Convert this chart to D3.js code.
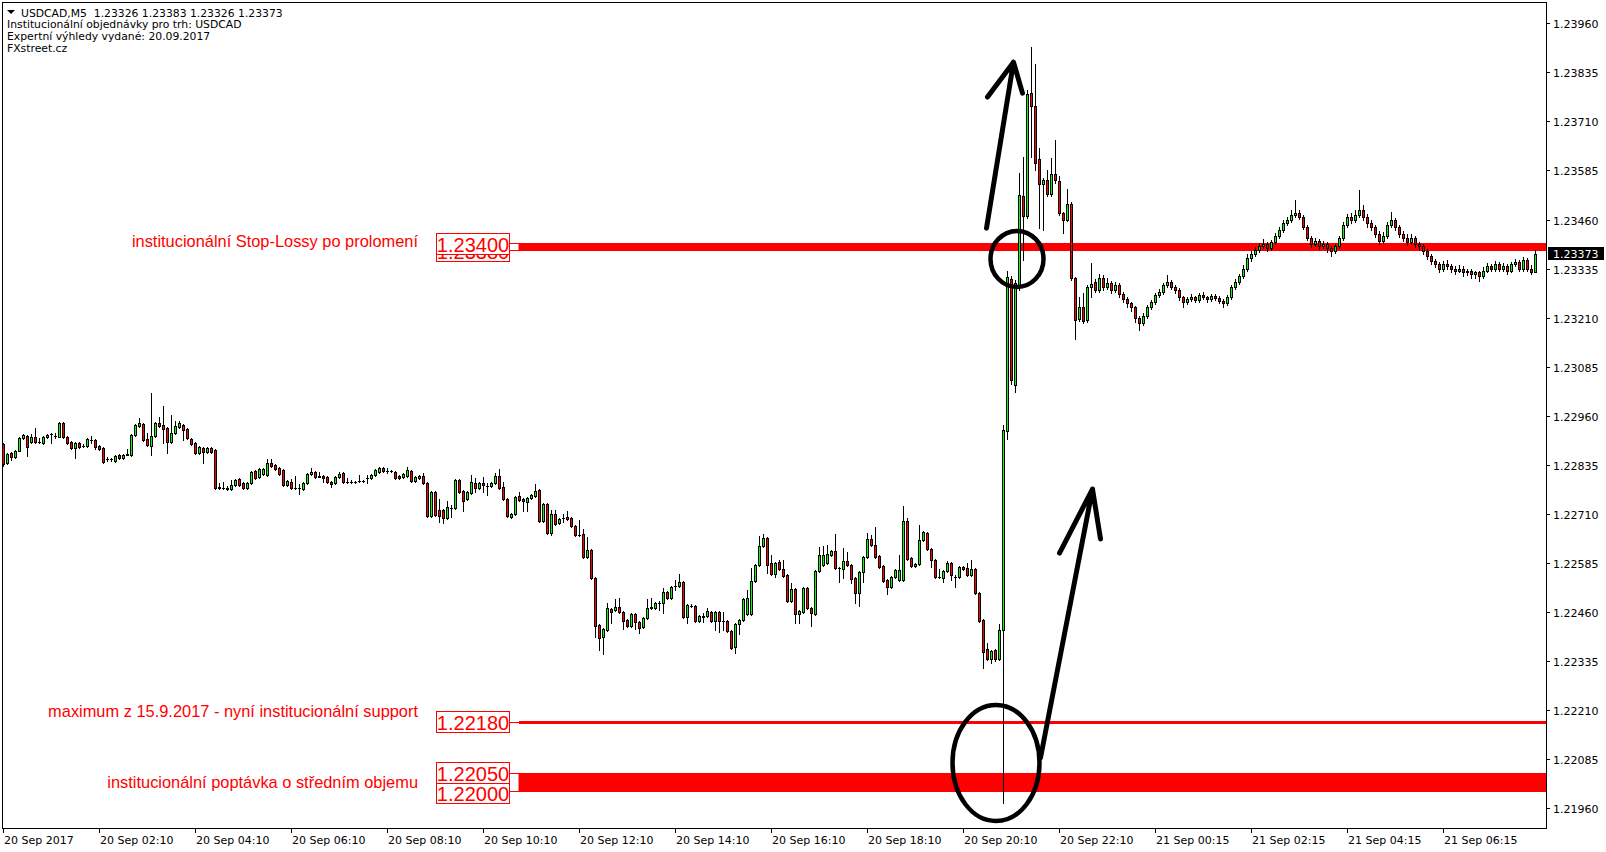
<!DOCTYPE html>
<html><head><meta charset="utf-8">
<script src="https://cdn.jsdelivr.net/npm/d3@7"></script>
<style>html,body{margin:0;padding:0;background:#fff;}svg{display:block;}</style>
</head><body>
<svg id="c" width="1606" height="852"></svg>
<script>
// ---- DATA (USDCAD M5) ----
const openP = [
1.22888,1.22839,1.22865,1.22855,1.22870,1.22903,1.22908,1.22893,1.22906,1.22893,
1.22890,1.22906,1.22913,1.22908,1.22906,1.22941,1.22906,1.22893,1.22878,1.22890,
1.22883,1.22883,1.22898,1.22898,1.22883,1.22878,1.22850,1.22849,1.22845,1.22860,
1.22852,1.22860,1.22860,1.22911,1.22934,1.22939,1.22901,1.22883,1.22908,1.22941,
1.22936,1.22929,1.22893,1.22916,1.22931,1.22936,1.22926,1.22901,1.22890,1.22865,
1.22878,1.22868,1.22878,1.22873,1.22778,1.22777,1.22775,1.22773,1.22783,1.22799,
1.22789,1.22776,1.22789,1.22819,1.22804,1.22811,1.22809,1.22839,1.22834,1.22827,
1.22822,1.22783,1.22791,1.22776,1.22776,1.22773,1.22789,1.22811,1.22817,1.22806,
1.22806,1.22804,1.22791,1.22789,1.22804,1.22814,1.22791,1.22792,1.22791,1.22793,
1.22794,1.22801,1.22801,1.22809,1.22817,1.22827,1.22819,1.22819,1.22817,1.22806,
1.22804,1.22806,1.22819,1.22794,1.22801,1.22806,1.22789,1.22704,1.22766,1.22720,
1.22720,1.22699,1.22725,1.22725,1.22796,1.22768,1.22748,1.22763,1.22789,1.22776,
1.22789,1.22782,1.22781,1.22789,1.22806,1.22778,1.22748,1.22702,1.22709,1.22755,
1.22748,1.22740,1.22750,1.22755,1.22771,1.22691,1.22735,1.22661,1.22709,1.22686,
1.22699,1.22702,1.22699,1.22679,1.22656,1.22658,1.22600,1.22618,1.22546,1.22426,
1.22396,1.22414,1.22467,1.22465,1.22472,1.22459,1.22439,1.22424,1.22454,1.22434,
1.22421,1.22444,1.22470,1.22470,1.22482,1.22482,1.22510,1.22495,1.22526,1.22526,
1.22536,1.22447,1.22476,1.22475,1.22436,1.22449,1.22449,1.22459,1.22436,1.22459,
1.22436,1.22436,1.22411,1.22370,1.22429,1.22439,1.22454,1.22454,1.22538,1.22579,
1.22628,1.22648,1.22584,1.22556,1.22587,1.22569,1.22554,1.22487,1.22518,1.22454,
1.22459,1.22521,1.22470,1.22454,1.22564,1.22579,1.22584,1.22605,1.22615,1.22572,
1.22569,1.22589,1.22579,1.22546,1.22508,1.22561,1.22600,1.22646,1.22630,1.22602,
1.22577,1.22541,1.22523,1.22549,1.22541,1.22541,1.22691,1.22597,1.22577,1.22582,
1.22643,1.22661,1.22620,1.22592,1.22549,1.22546,1.22564,1.22584,1.22549,1.22549,
1.22574,1.22572,1.22554,1.22569,1.22508,1.22439,1.22365,1.22340,1.22363,1.22340,
1.22414,1.22920,1.23309,1.23038,1.23288,1.23520,1.23469,1.23782,1.23749,1.23614,
1.23551,1.23561,1.23525,1.23576,1.23558,1.23477,1.23459,1.23500,1.23311,1.23206,
1.23237,1.23204,1.23288,1.23301,1.23280,
1.23311,1.23288,1.23299,1.23280,1.23293,1.23270,1.23257,1.23246,1.23236,1.23210,
1.23197,1.23215,1.23236,1.23249,1.23267,1.23275,1.23293,1.23301,1.23288,1.23280,
1.23262,1.23249,1.23257,1.23262,1.23254,1.23267,1.23262,1.23257,1.23265,1.23259,
1.23252,1.23246,1.23262,1.23288,1.23301,1.23315,1.23335,1.23361,1.23372,1.23382,
1.23393,1.23398,1.23387,1.23403,1.23419,1.23432,1.23450,1.23458,1.23471,1.23476,
1.23466,1.23440,1.23414,1.23398,1.23406,1.23393,1.23398,1.23387,1.23380,1.23393,
1.23414,1.23445,1.23466,1.23458,1.23471,1.23484,1.23466,1.23450,1.23440,1.23424,
1.23406,1.23419,1.23445,1.23458,1.23440,1.23424,1.23414,1.23403,1.23414,1.23398,
1.23393,1.23380,1.23367,1.23354,1.23346,1.23335,1.23346,1.23341,1.23335,1.23330,
1.23335,1.23325,1.23328,1.23320,1.23325,1.23315,1.23330,1.23341,1.23335,1.23346,
1.23335,1.23341,1.23330,1.23346,1.23351,1.23335,1.23356,1.23335,1.23326];
const highP = [
1.22890,1.22865,1.22868,1.22873,1.22906,1.22913,1.22911,1.22913,1.22929,1.22903,
1.22908,1.22913,1.22916,1.22916,1.22944,1.22944,1.22908,1.22896,1.22893,1.22893,
1.22888,1.22903,1.22908,1.22901,1.22885,1.22880,1.22855,1.22852,1.22860,1.22862,
1.22862,1.22875,1.22913,1.22939,1.22954,1.22941,1.22916,1.23018,1.22944,1.22957,
1.22985,1.22931,1.22962,1.22946,1.22946,1.22939,1.22929,1.22903,1.22893,1.22883,
1.22880,1.22880,1.22880,1.22875,1.22789,1.22791,1.22781,1.22796,1.22799,1.22801,
1.22791,1.22791,1.22819,1.22822,1.22827,1.22827,1.22850,1.22850,1.22837,1.22829,
1.22824,1.22796,1.22799,1.22806,1.22786,1.22791,1.22814,1.22827,1.22819,1.22817,
1.22809,1.22806,1.22794,1.22806,1.22817,1.22817,1.22801,1.22796,1.22794,1.22809,
1.22796,1.22809,1.22811,1.22824,1.22829,1.22829,1.22827,1.22822,1.22819,1.22809,
1.22814,1.22829,1.22822,1.22806,1.22809,1.22814,1.22791,1.22768,1.22768,1.22748,
1.22722,1.22742,1.22732,1.22799,1.22799,1.22771,1.22768,1.22809,1.22801,1.22791,
1.22804,1.22789,1.22791,1.22814,1.22824,1.22791,1.22750,1.22712,1.22755,1.22766,
1.22750,1.22753,1.22760,1.22786,1.22773,1.22737,1.22737,1.22720,1.22720,1.22699,
1.22709,1.22717,1.22702,1.22681,1.22694,1.22671,1.22651,1.22620,1.22549,1.22429,
1.22419,1.22482,1.22470,1.22493,1.22495,1.22462,1.22442,1.22457,1.22457,1.22436,
1.22447,1.22493,1.22495,1.22485,1.22487,1.22521,1.22513,1.22526,1.22541,1.22556,
1.22538,1.22480,1.22480,1.22477,1.22452,1.22457,1.22470,1.22462,1.22462,1.22462,
1.22459,1.22439,1.22414,1.22431,1.22442,1.22495,1.22516,1.22572,1.22582,1.22653,
1.22658,1.22651,1.22605,1.22587,1.22592,1.22592,1.22556,1.22533,1.22521,1.22465,
1.22523,1.22523,1.22472,1.22567,1.22625,1.22628,1.22630,1.22618,1.22658,1.22574,
1.22623,1.22612,1.22582,1.22549,1.22564,1.22602,1.22661,1.22656,1.22676,1.22605,
1.22579,1.22544,1.22551,1.22569,1.22605,1.22730,1.22699,1.22600,1.22584,1.22681,
1.22666,1.22663,1.22623,1.22595,1.22569,1.22567,1.22589,1.22587,1.22554,1.22577,
1.22577,1.22584,1.22592,1.22572,1.22510,1.22442,1.22380,1.22363,1.22365,1.22429,
1.22936,1.23330,1.23315,1.23305,1.23578,1.23619,1.23790,1.23900,1.23856,1.23642,
1.23566,1.23586,1.23617,1.23663,1.23571,1.23479,1.23538,1.23505,1.23314,1.23263,
1.23273,1.23293,1.23349,1.23309,1.23321,
1.23318,1.23310,1.23304,1.23301,1.23297,1.23276,1.23262,1.23251,1.23240,1.23214,
1.23222,1.23241,1.23256,1.23272,1.23283,1.23299,1.23318,1.23306,1.23293,1.23285,
1.23266,1.23263,1.23270,1.23266,1.23272,1.23275,1.23266,1.23270,1.23270,1.23264,
1.23257,1.23267,1.23293,1.23309,1.23322,1.23345,1.23372,1.23380,1.23390,1.23401,
1.23411,1.23403,1.23409,1.23425,1.23440,1.23458,1.23466,1.23484,1.23510,1.23484,
1.23471,1.23445,1.23419,1.23414,1.23411,1.23406,1.23403,1.23393,1.23398,1.23419,
1.23453,1.23474,1.23476,1.23484,1.23536,1.23497,1.23474,1.23458,1.23445,1.23430,
1.23427,1.23453,1.23479,1.23463,1.23445,1.23430,1.23422,1.23424,1.23419,1.23403,
1.23398,1.23385,1.23372,1.23359,1.23351,1.23354,1.23356,1.23346,1.23341,1.23343,
1.23341,1.23335,1.23333,1.23330,1.23330,1.23338,1.23348,1.23346,1.23354,1.23351,
1.23348,1.23346,1.23351,1.23359,1.23356,1.23364,1.23361,1.23343,1.23383];
const lowP = [
1.22832,1.22837,1.22847,1.22852,1.22870,1.22901,1.22857,1.22890,1.22890,1.22890,
1.22888,1.22903,1.22890,1.22903,1.22906,1.22903,1.22888,1.22875,1.22852,1.22878,
1.22880,1.22880,1.22890,1.22875,1.22873,1.22839,1.22845,1.22845,1.22842,1.22850,
1.22850,1.22860,1.22857,1.22908,1.22931,1.22896,1.22883,1.22860,1.22906,1.22931,
1.22890,1.22865,1.22890,1.22913,1.22929,1.22898,1.22901,1.22885,1.22862,1.22862,
1.22839,1.22865,1.22865,1.22773,1.22773,1.22773,1.22771,1.22771,1.22781,1.22781,
1.22773,1.22773,1.22786,1.22799,1.22801,1.22809,1.22806,1.22829,1.22822,1.22809,
1.22781,1.22781,1.22773,1.22773,1.22760,1.22771,1.22786,1.22809,1.22801,1.22804,
1.22791,1.22789,1.22778,1.22786,1.22801,1.22789,1.22789,1.22789,1.22789,1.22791,
1.22791,1.22789,1.22799,1.22806,1.22814,1.22817,1.22814,1.22817,1.22799,1.22799,
1.22801,1.22804,1.22791,1.22791,1.22799,1.22786,1.22702,1.22702,1.22704,1.22689,
1.22686,1.22697,1.22702,1.22722,1.22763,1.22717,1.22745,1.22760,1.22766,1.22773,
1.22766,1.22758,1.22778,1.22786,1.22773,1.22745,1.22702,1.22699,1.22707,1.22742,
1.22717,1.22717,1.22748,1.22753,1.22689,1.22689,1.22658,1.22656,1.22681,1.22684,
1.22689,1.22694,1.22676,1.22653,1.22653,1.22597,1.22597,1.22544,1.22396,1.22363,
1.22352,1.22411,1.22431,1.22462,1.22457,1.22416,1.22421,1.22421,1.22416,1.22406,
1.22419,1.22442,1.22467,1.22467,1.22465,1.22457,1.22493,1.22493,1.22516,1.22523,
1.22444,1.22431,1.22472,1.22434,1.22434,1.22434,1.22447,1.22434,1.22414,1.22408,
1.22414,1.22408,1.22365,1.22355,1.22403,1.22436,1.22452,1.22452,1.22536,1.22577,
1.22625,1.22559,1.22554,1.22549,1.22567,1.22549,1.22485,1.22485,1.22431,1.22431,
1.22457,1.22467,1.22424,1.22452,1.22561,1.22577,1.22582,1.22602,1.22569,1.22536,
1.22546,1.22577,1.22533,1.22482,1.22475,1.22536,1.22597,1.22628,1.22597,1.22572,
1.22536,1.22505,1.22521,1.22546,1.22538,1.22538,1.22592,1.22574,1.22574,1.22579,
1.22640,1.22618,1.22574,1.22546,1.22546,1.22536,1.22561,1.22541,1.22523,1.22546,
1.22567,1.22551,1.22551,1.22505,1.22434,1.22317,1.22337,1.22330,1.22335,1.22337,
1.21973,1.22900,1.23040,1.23020,1.23280,1.23357,1.23464,1.23619,1.23586,1.23438,
1.23433,1.23520,1.23520,1.23553,1.23472,1.23426,1.23456,1.23306,1.23156,1.23201,
1.23196,1.23199,1.23263,1.23275,1.23275,
1.23281,1.23283,1.23272,1.23276,1.23262,1.23250,1.23238,1.23228,1.23199,1.23179,
1.23190,1.23210,1.23231,1.23244,1.23262,1.23270,1.23288,1.23283,1.23273,1.23255,
1.23236,1.23244,1.23252,1.23249,1.23250,1.23257,1.23250,1.23252,1.23254,1.23246,
1.23236,1.23241,1.23257,1.23283,1.23296,1.23310,1.23330,1.23354,1.23366,1.23377,
1.23388,1.23380,1.23382,1.23398,1.23414,1.23427,1.23445,1.23453,1.23466,1.23461,
1.23435,1.23408,1.23390,1.23393,1.23385,1.23387,1.23377,1.23367,1.23374,1.23388,
1.23409,1.23440,1.23450,1.23453,1.23466,1.23458,1.23440,1.23432,1.23416,1.23398,
1.23401,1.23414,1.23440,1.23432,1.23416,1.23406,1.23395,1.23398,1.23390,1.23382,
1.23372,1.23359,1.23346,1.23338,1.23325,1.23330,1.23333,1.23325,1.23320,1.23325,
1.23315,1.23318,1.23310,1.23312,1.23302,1.23310,1.23325,1.23328,1.23330,1.23328,
1.23330,1.23322,1.23325,1.23341,1.23328,1.23330,1.23328,1.23320,1.23326];
const closeP = [
1.22837,1.22862,1.22855,1.22870,1.22903,1.22911,1.22880,1.22906,1.22893,1.22892,
1.22906,1.22911,1.22913,1.22909,1.22941,1.22906,1.22890,1.22878,1.22890,1.22880,
1.22882,1.22901,1.22898,1.22880,1.22875,1.22842,1.22849,1.22850,1.22857,1.22852,
1.22860,1.22862,1.22911,1.22936,1.22941,1.22898,1.22885,1.22908,1.22941,1.22934,
1.22926,1.22893,1.22916,1.22934,1.22941,1.22924,1.22903,1.22888,1.22865,1.22880,
1.22868,1.22878,1.22868,1.22776,1.22777,1.22776,1.22773,1.22783,1.22796,1.22783,
1.22776,1.22789,1.22817,1.22801,1.22824,1.22824,1.22839,1.22832,1.22824,1.22811,
1.22783,1.22794,1.22776,1.22776,1.22775,1.22789,1.22811,1.22817,1.22804,1.22805,
1.22801,1.22791,1.22786,1.22804,1.22811,1.22791,1.22792,1.22791,1.22792,1.22794,
1.22793,1.22802,1.22809,1.22822,1.22827,1.22819,1.22820,1.22819,1.22801,1.22801,
1.22811,1.22822,1.22794,1.22804,1.22806,1.22789,1.22704,1.22766,1.22707,1.22704,
1.22699,1.22727,1.22726,1.22796,1.22766,1.22742,1.22766,1.22791,1.22776,1.22789,
1.22783,1.22781,1.22789,1.22806,1.22776,1.22748,1.22704,1.22709,1.22753,1.22745,
1.22742,1.22750,1.22758,1.22768,1.22691,1.22735,1.22661,1.22709,1.22684,1.22697,
1.22700,1.22697,1.22679,1.22656,1.22655,1.22600,1.22618,1.22546,1.22424,1.22393,
1.22416,1.22470,1.22459,1.22472,1.22459,1.22436,1.22424,1.22454,1.22434,1.22419,
1.22444,1.22470,1.22472,1.22482,1.22483,1.22510,1.22495,1.22523,1.22525,1.22536,
1.22447,1.22477,1.22475,1.22436,1.22449,1.22448,1.22462,1.22436,1.22459,1.22436,
1.22437,1.22411,1.22368,1.22429,1.22439,1.22493,1.22495,1.22538,1.22579,1.22628,
1.22648,1.22579,1.22556,1.22584,1.22569,1.22551,1.22487,1.22518,1.22454,1.22462,
1.22521,1.22470,1.22457,1.22564,1.22605,1.22605,1.22607,1.22615,1.22572,1.22571,
1.22589,1.22579,1.22544,1.22508,1.22561,1.22600,1.22646,1.22630,1.22600,1.22574,
1.22538,1.22523,1.22549,1.22567,1.22567,1.22691,1.22595,1.22577,1.22582,1.22643,
1.22663,1.22620,1.22592,1.22549,1.22548,1.22564,1.22584,1.22554,1.22548,1.22574,
1.22569,1.22554,1.22569,1.22508,1.22436,1.22357,1.22340,1.22360,1.22340,1.22414,
1.22924,1.23314,1.23051,1.23298,1.23522,1.23469,1.23780,1.23749,1.23604,1.23551,
1.23561,1.23525,1.23576,1.23561,1.23477,1.23459,1.23500,1.23311,1.23204,1.23237,
1.23201,1.23288,1.23296,1.23280,1.23311,
1.23288,1.23299,1.23280,1.23293,1.23270,1.23257,1.23246,1.23236,1.23210,1.23197,
1.23215,1.23236,1.23249,1.23267,1.23275,1.23293,1.23301,1.23288,1.23280,1.23262,
1.23249,1.23257,1.23262,1.23254,1.23267,1.23262,1.23257,1.23265,1.23259,1.23252,
1.23246,1.23262,1.23288,1.23301,1.23315,1.23335,1.23361,1.23372,1.23382,1.23393,
1.23398,1.23387,1.23403,1.23419,1.23432,1.23450,1.23458,1.23471,1.23476,1.23466,
1.23440,1.23414,1.23398,1.23406,1.23393,1.23398,1.23387,1.23380,1.23393,1.23414,
1.23445,1.23466,1.23458,1.23471,1.23484,1.23466,1.23450,1.23440,1.23424,1.23406,
1.23419,1.23445,1.23458,1.23440,1.23424,1.23414,1.23403,1.23414,1.23398,1.23393,
1.23380,1.23367,1.23354,1.23346,1.23335,1.23346,1.23341,1.23335,1.23330,1.23335,
1.23325,1.23328,1.23320,1.23325,1.23315,1.23330,1.23341,1.23335,1.23346,1.23335,
1.23341,1.23330,1.23346,1.23351,1.23335,1.23356,1.23335,1.23326,1.23373];

const barCount = 384;
const priceTicks = [1.23960,1.23835,1.23710,1.23585,1.23460,1.23335,1.23210,1.23085,1.22960,
                    1.22835,1.22710,1.22585,1.22460,1.22335,1.22210,1.22085,1.21960];
const timeTickBars = [0,24,48,72,96,120,144,168,192,216,240,264,288,312,336,360];
const timeTickLabels = ["20 Sep 2017","20 Sep 02:10","20 Sep 04:10","20 Sep 06:10","20 Sep 08:10",
  "20 Sep 10:10","20 Sep 12:10","20 Sep 14:10","20 Sep 16:10","20 Sep 18:10","20 Sep 20:10",
  "20 Sep 22:10","21 Sep 00:15","21 Sep 02:15","21 Sep 04:15","21 Sep 06:15"];
const zoneTop = [1.23400, 1.22050];
const zoneBottom = [1.23380, 1.22000];
const lineLevels = [1.22180];
const levelLabels = [1.23380, 1.23400, 1.22000, 1.22050, 1.22180];
const noteTexts = ["institucionální Stop-Lossy po prolomení",
  "maximum z 15.9.2017 - nyní institucionální support",
  "institucionální poptávka o středním objemu"];
const headerLines = ["USDCAD,M5  1.23326 1.23383 1.23326 1.23373",
  "Institucionální objednávky pro trh: USDCAD",
  "Expertní výhledy vydané: 20.09.2017", "FXstreet.cz"];
const lastPrice = 1.23373;
// hand-drawn marks, in (bar index, price) space
const ringMarks = [[246.25, 260.5, 1.23436, 1.23283], [236.75, 259.5, 1.22228, 1.21922]];
const arrowMarks = [
  [[245.75,1.23438],[252.5,1.23861],[246,1.23772],[254.75,1.23782]],
  [[259.25,1.22088],[272.25,1.22773],[264,1.22610],[274.25,1.22646]]];

// ---- CHART ----
const svg = d3.select("#c");
const L = 2, T = 2, R = 1546, B = 828;
const x = d3.scaleBand().domain(d3.range(barCount)).range([1, 1 + 4 * barCount]);
const y = d3.scaleLinear().domain([1.21960, 1.23960]).range([808.1, 23.3]);
const xc = b => x(0) + 2.5 + b * x.step();
const RED = "#ff0000";
const AX = "DejaVu Sans, sans-serif";

svg.append("rect").attr("width", 1606).attr("height", 852).attr("fill", "#fff");

const plot = svg.append("g");
zoneTop.forEach((p, k) => {
  const y0 = Math.round(y(p)), y1 = Math.round(y(zoneBottom[k]));
  plot.append("rect").attr("x", 519).attr("y", y0).attr("width", R - 519).attr("height", y1 - y0)
    .attr("fill", RED);
  plot.append("rect").attr("x", 509.5).attr("y", y0 + 0.5).attr("width", 9.5).attr("height", y1 - y0 - 1)
    .attr("fill", "#fff").attr("stroke", RED).attr("stroke-width", 1);
});
lineLevels.forEach(p => {
  const yy = Math.round(y(p));
  plot.append("rect").attr("x", 519).attr("y", yy - 1).attr("width", R - 519).attr("height", 3).attr("fill", RED);
  plot.append("line").attr("x1", 509).attr("x2", 519).attr("y1", yy + 0.5).attr("y2", yy + 0.5)
    .attr("stroke", RED).attr("stroke-width", 1);
});

// candles
const n = Math.min(openP.length, highP.length, lowP.length, closeP.length, barCount);
const candles = d3.range(n).map(i => ({i, o: openP[i], h: highP[i], l: lowP[i], c: closeP[i]}));
const yTop = d => Math.round(y(Math.max(d.o, d.c)));
const yBot = d => Math.round(y(Math.min(d.o, d.c)));
const cg = plot.append("g").attr("shape-rendering", "crispEdges");
cg.selectAll("rect.wick").data(candles).join("rect").attr("class", "wick")
  .attr("x", d => x(d.i) + 2).attr("width", 1)
  .attr("y", d => Math.round(y(d.h)))
  .attr("height", d => Math.max(1, Math.round(y(d.l)) - Math.round(y(d.h)) + 1))
  .attr("fill", "#000");
cg.selectAll("rect.body").data(candles).join("rect").attr("class", "body")
  .attr("x", d => x(d.i) + 1).attr("width", 3)
  .attr("y", yTop).attr("height", d => yBot(d) - yTop(d) + 1)
  .attr("fill", "#000");
cg.selectAll("rect.fill").data(candles.filter(d => yBot(d) - yTop(d) >= 2))
  .join("rect").attr("class", "fill")
  .attr("x", d => x(d.i) + 2).attr("width", 1)
  .attr("y", d => yTop(d) + 1).attr("height", d => yBot(d) - yTop(d) - 1)
  .attr("fill", d => d.c >= d.o ? "#00ff00" : RED);

// price label boxes
levelLabels.forEach(p => {
  const top = Math.round(y(p) - 10.5);
  plot.append("rect").attr("x", 436.5).attr("y", top + 0.5).attr("width", 73).attr("height", 21)
    .attr("fill", "#fff").attr("stroke", RED).attr("stroke-width", 1);
  plot.append("text").attr("x", 473).attr("y", top + 19).attr("text-anchor", "middle")
    .attr("font-family", "Liberation Sans, Arial, sans-serif").attr("font-size", 20)
    .attr("fill", RED).text(d3.format(".5f")(p));
});
// notes
const noteBase = [247, 717, 788];
noteTexts.forEach((t, k) => {
  plot.append("text").attr("x", 418).attr("y", noteBase[k]).attr("text-anchor", "end")
    .attr("font-family", "Liberation Sans, Arial, sans-serif").attr("font-size", 16.4)
    .attr("fill", RED).text(t);
});

// hand drawn marks
const ink = plot.append("g").attr("fill", "none").attr("stroke", "#000")
  .attr("stroke-linecap", "round").attr("stroke-linejoin", "round");
ringMarks.forEach(([b0, b1, hi, lo]) => {
  ink.append("ellipse").attr("cx", (xc(b0) + xc(b1)) / 2).attr("cy", (y(hi) + y(lo)) / 2)
    .attr("rx", (xc(b1) - xc(b0)) / 2 - 2).attr("ry", (y(lo) - y(hi)) / 2 - 2)
    .attr("stroke-width", 4.5);
});
arrowMarks.forEach(([tail, tip, wl, wr]) => {
  const P = q => [xc(q[0]), y(q[1])];
  ink.append("path").attr("stroke-width", 5)
    .attr("d", d3.line()([P(tail), P(tip)]) + d3.line()([P(wl), P(tip), P(wr)]));
});

// frame
svg.append("rect").attr("x", L + 0.5).attr("y", T + 0.5).attr("width", R - L).attr("height", B - T)
  .attr("fill", "none").attr("stroke", "#000").attr("stroke-width", 1);

// right axis
const ya = svg.append("g").attr("font-family", AX).attr("font-size", 11);
priceTicks.forEach(p => {
  const yy = Math.round(y(p)) + 0.5;
  ya.append("line").attr("x1", R).attr("x2", R + 4).attr("y1", yy).attr("y2", yy).attr("stroke", "#000");
  ya.append("text").attr("x", 1553).attr("y", yy + 4).attr("fill", "#000").text(d3.format(".5f")(p));
});
{
  const yy = y(lastPrice);
  ya.append("rect").attr("x", 1548).attr("y", Math.round(yy) - 7).attr("width", 56).attr("height", 13).attr("fill", "#000");
  ya.append("text").attr("x", 1553).attr("y", Math.round(yy) + 4).attr("fill", "#fff").text(d3.format(".5f")(lastPrice));
}
// bottom axis
const xa = svg.append("g").attr("font-family", AX).attr("font-size", 11);
timeTickBars.forEach((b, k) => {
  const xx = x(b) + 2.5;
  xa.append("line").attr("x1", xx).attr("x2", xx).attr("y1", B).attr("y2", B + 5).attr("stroke", "#000");
  xa.append("text").attr("x", xx + 0.5).attr("y", 844).attr("fill", "#000").text(timeTickLabels[k]);
});

// header
const hd = svg.append("g").attr("font-family", AX).attr("font-size", 10.8).attr("fill", "#000");
hd.append("path").attr("d", "M7,10L15,10L11,14Z").attr("fill", "#000");
headerLines.forEach((t, k) => {
  hd.append("text").attr("x", k === 0 ? 21 : 7).attr("y", 16.5 + k * 11.7)
    .style("white-space", "pre").text(t);
});
</script>
</body></html>
